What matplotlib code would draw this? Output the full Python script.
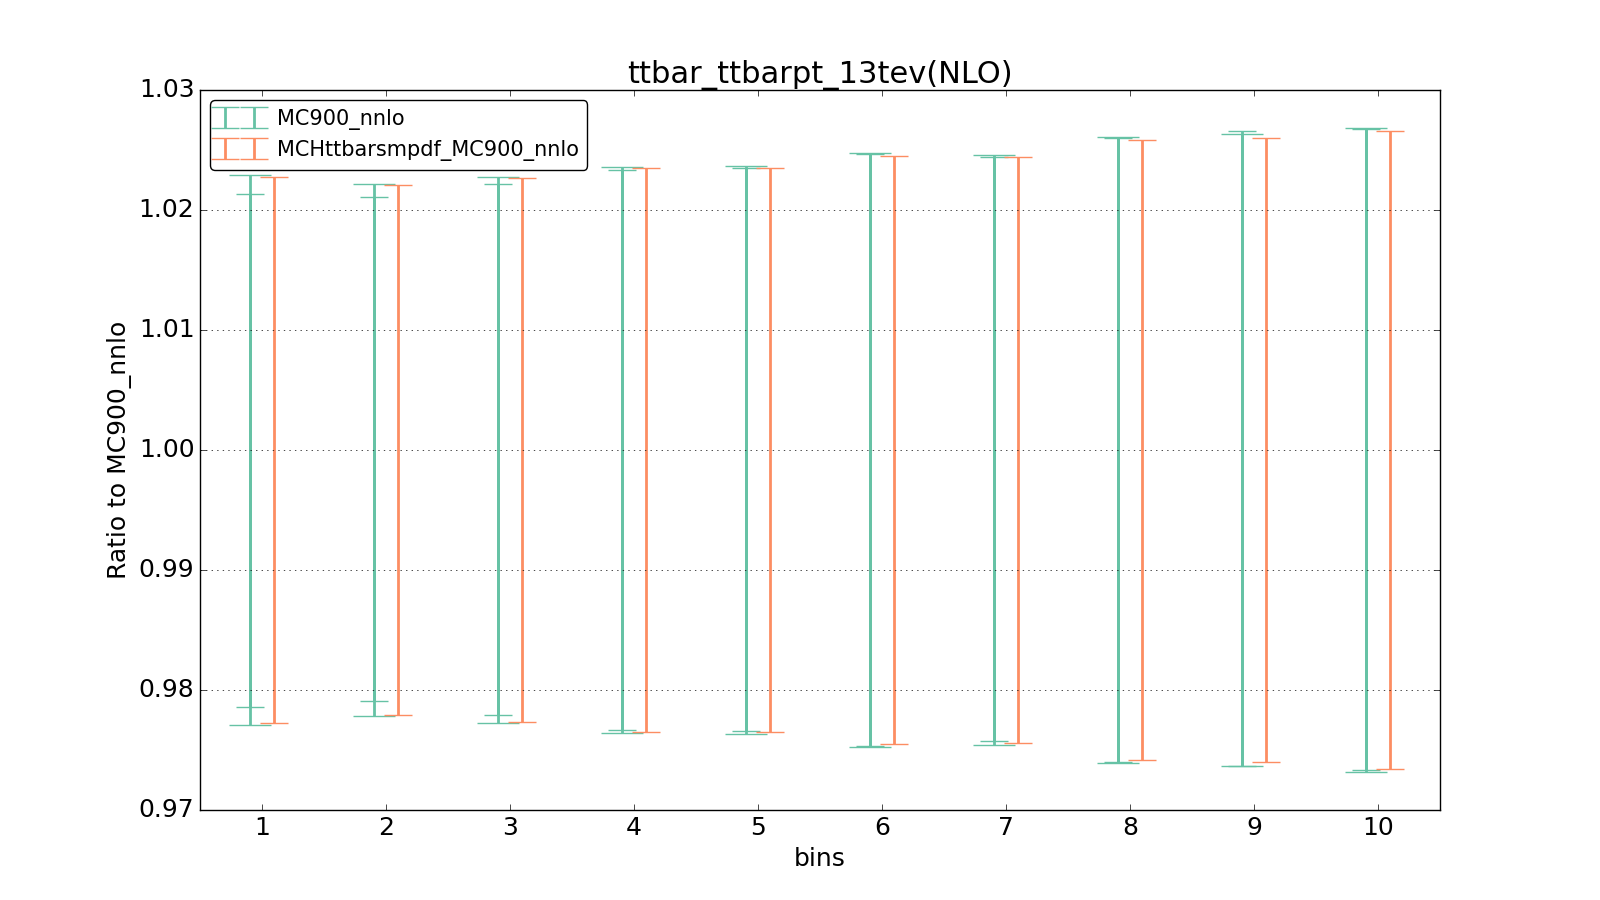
import matplotlib
matplotlib.use('Agg')
import matplotlib.pyplot as plt
import numpy as np

plt.style.use('classic')

# bins and ratio bands
bins = np.arange(1, 11)

mc_cv = [1.0] * 10
mc_std_lo = [0.97706, 0.97781, 0.97722, 0.97639, 0.97631, 0.97522, 0.97539, 0.97389, 0.97364, 0.97314]
mc_std_hi = [1.02289, 1.02214, 1.02272, 1.02356, 1.02364, 1.02472, 1.02456, 1.02606, 1.02631, 1.02681]
mc_cl_lo = [0.97856, 0.97906, 0.97789, 0.97664, 0.97656, 0.97531, 0.97572, 0.97397, 0.97366, 0.97331]
mc_cl_hi = [1.02133, 1.02106, 1.02214, 1.02331, 1.02347, 1.02464, 1.02439, 1.02597, 1.02656, 1.02672]

tt_cv = [0.99997, 0.99998, 0.99998, 0.99997, 0.99997, 0.99997, 0.99998, 0.99998, 0.99997, 0.99998]
tt_lo = [0.97722, 0.97789, 0.97731, 0.97647, 0.97647, 0.97547, 0.97556, 0.97414, 0.97397, 0.97339]
tt_hi = [1.02272, 1.02206, 1.02264, 1.02347, 1.02347, 1.02447, 1.02439, 1.02581, 1.02597, 1.02656]

labels = ['MC900_nnlo', 'MCHttbarsmpdf_MC900_nnlo']
colors = ['#66c2a5', '#fc8d62']


def err(cv, lo, hi):
    cv = np.array(cv)
    return [cv - np.array(lo), np.array(hi) - cv]


fig = plt.figure(figsize=(16, 9), dpi=100)
ax = fig.add_subplot(111)

# green: std band (wide caps) and 68% band (narrow caps)
ax.errorbar(bins - 0.1, mc_cv, yerr=err(mc_cv, mc_std_lo, mc_std_hi), fmt='none',
            ecolor=colors[0], elinewidth=2, capsize=15, capthick=1)
ax.errorbar(bins - 0.1, mc_cv, yerr=err(mc_cv, mc_cl_lo, mc_cl_hi), fmt='none',
            ecolor=colors[0], elinewidth=2, capsize=10, capthick=1, label=labels[0])
ax.errorbar(bins + 0.1, tt_cv, yerr=err(tt_cv, tt_lo, tt_hi), fmt='none',
            ecolor=colors[1], elinewidth=2, capsize=10, capthick=1, label=labels[1])

ax.set_xlim(0.5, 10.5)
ax.set_ylim(0.97, 1.03)
ax.set_xticks(bins)
ax.ticklabel_format(axis='y', useOffset=False)
ax.yaxis.grid(True)
ax.tick_params(labelsize=18)

ax.set_title('ttbar_ttbarpt_13tev(NLO)', fontsize=22)
ax.set_xlabel('bins', fontsize=18)
ax.set_ylabel('Ratio to MC900_nnlo', fontsize=18)
ax.legend(loc='upper left', fontsize=15, fancybox=True, numpoints=2)

fig.savefig('out.png', dpi=100)
